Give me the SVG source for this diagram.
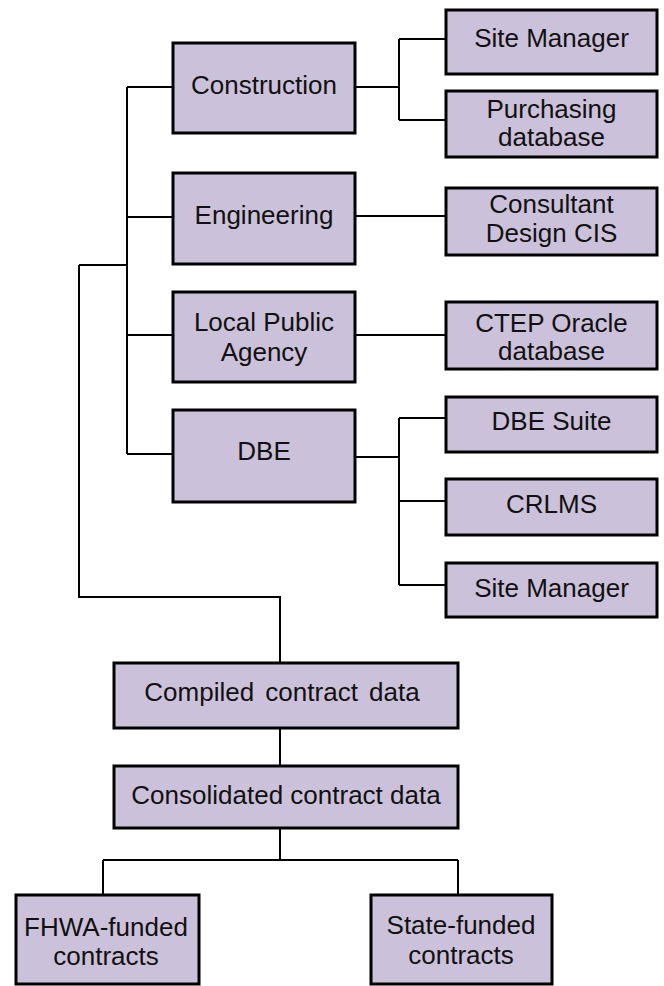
<svg xmlns="http://www.w3.org/2000/svg" width="664" height="986" viewBox="0 0 664 986">
<style>
.box{fill:#CCC1DA;stroke:#000;stroke-width:3}
.t{font-family:"Liberation Sans",Arial,sans-serif;font-size:26px;fill:#111;text-anchor:middle}
.c{fill:none;stroke:#000;stroke-width:2}
</style>
<rect width="664" height="986" fill="#fff"/>
<g id="connectors" class="c">
<path d="M79,265 H127 M79,265 V597 H280 V663"/>
<path d="M127,87 V454 M127,87 H173 M127,217 H173 M127,335 H173 M127,454 H173"/>
<path d="M355,87 H399 M399,39 V120 M399,39 H446 M399,120 H446"/>
<path d="M355,216 H446"/>
<path d="M355,335 H446"/>
<path d="M355,457 H399 M399,418 V585 M399,418 H446 M399,501 H446 M399,585 H446"/>
<path d="M280,728 V766"/>
<path d="M280,828 V860 M103,860 H458 M103,860 V895 M458,860 V895"/>
</g>
<g id="construction"><rect class="box" x="173" y="43" width="182" height="90"/><text class="t" x="264" y="94">Construction</text></g>
<g id="engineering"><rect class="box" x="173" y="173" width="182" height="91"/><text class="t" x="264" y="224">Engineering</text></g>
<g id="lpa"><rect class="box" x="173" y="292" width="182" height="90"/><text class="t" x="264" y="331">Local Public</text><text class="t" x="264" y="361">Agency</text></g>
<g id="dbe"><rect class="box" x="173" y="410" width="182" height="92"/><text class="t" x="264" y="460">DBE</text></g>
<g id="sitemanager1"><rect class="box" x="446" y="10" width="211" height="64"/><text class="t" x="551.5" y="47">Site Manager</text></g>
<g id="purchasing"><rect class="box" x="446" y="91" width="211" height="66"/><text class="t" x="551.5" y="118">Purchasing</text><text class="t" x="551.5" y="146">database</text></g>
<g id="consultant"><rect class="box" x="446" y="188" width="211" height="67"/><text class="t" x="551.5" y="213">Consultant</text><text class="t" x="551.5" y="242">Design CIS</text></g>
<g id="ctep"><rect class="box" x="446" y="302" width="211" height="67"/><text class="t" x="551.5" y="332">CTEP Oracle</text><text class="t" x="551.5" y="360">database</text></g>
<g id="dbesuite"><rect class="box" x="446" y="397" width="211" height="55"/><text class="t" x="551.5" y="430">DBE Suite</text></g>
<g id="crlms"><rect class="box" x="446" y="479" width="211" height="56"/><text class="t" x="551.5" y="513">CRLMS</text></g>
<g id="sitemanager2"><rect class="box" x="446" y="563" width="211" height="54"/><text class="t" x="551.5" y="597">Site Manager</text></g>
<g id="compiled"><rect class="box" x="114" y="663" width="344" height="65"/><text class="t" x="282" y="701" word-spacing="4">Compiled contract data</text></g>
<g id="consolidated"><rect class="box" x="114" y="766" width="344" height="62"/><text class="t" x="286" y="804">Consolidated contract data</text></g>
<g id="fhwa"><rect class="box" x="16" y="895" width="183" height="89"/><text class="t" x="106" y="936">FHWA-funded</text><text class="t" x="106" y="965">contracts</text></g>
<g id="state"><rect class="box" x="371" y="895" width="181" height="89"/><text class="t" x="461" y="934">State-funded</text><text class="t" x="461" y="964">contracts</text></g>
</svg>
